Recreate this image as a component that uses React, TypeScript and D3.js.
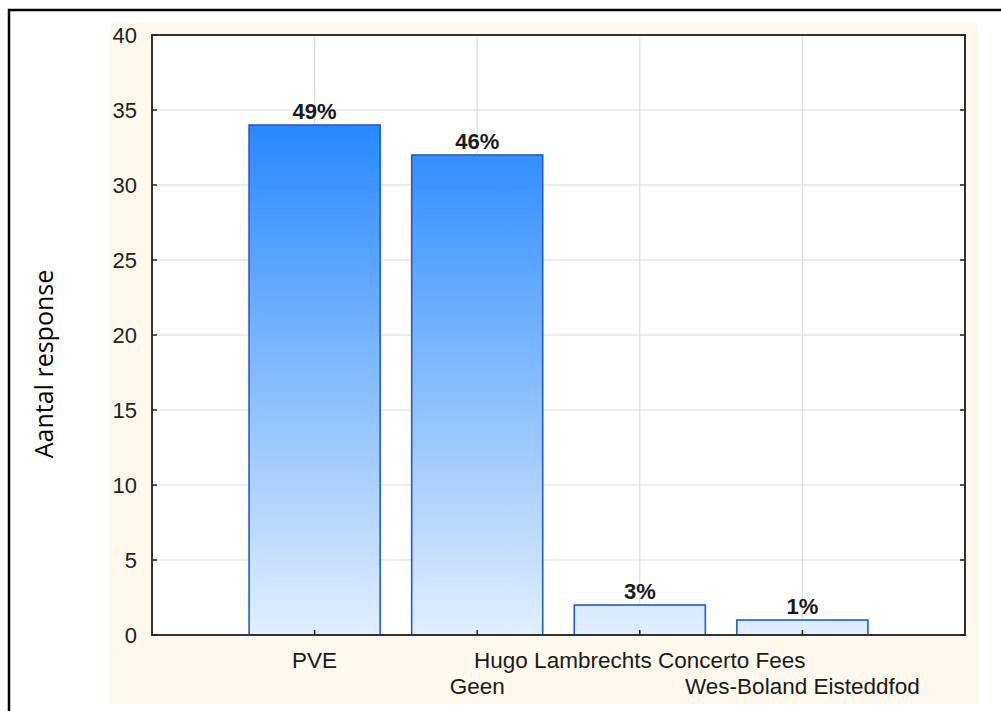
import { scaleLinear, scalePoint } from "d3";
import type { ReactElement } from "react";

const categories = ["PVE", "Geen", "Hugo Lambrechts Concerto Fees", "Wes-Boland Eisteddfod"];
const counts = [34, 32, 2, 1];
const percentLabels = ["49%", "46%", "3%", "1%"];
const yTicks = [0, 5, 10, 15, 20, 25, 30, 35, 40];
const yTitle = "Aantal response";

const W = 1001;
const H = 711;
const PLOT = { left: 152, top: 35, right: 965, bottom: 635 };
// labels alternate between two rows, like the original export
const LABEL_ROWS = [668, 694];
const FONT = "'Liberation Sans', Arial, sans-serif";

export default function App(): ReactElement {
  const x = scalePoint<string>()
    .domain(categories)
    .range([PLOT.left, PLOT.right])
    .padding(1);
  const y = scaleLinear().domain([0, 40]).range([PLOT.bottom, PLOT.top]);
  const barW = x.step() * 0.806;
  const maxVal = Math.max(...counts);

  return (
    <div style={{ position: "fixed", left: 0, top: 0 }}>
      <svg width={W} height={H} viewBox={`0 0 ${W} ${H}`} style={{ display: "block" }}>
        <defs>
          <linearGradient
            id="barFill"
            gradientUnits="userSpaceOnUse"
            x1={0}
            x2={0}
            y1={y(maxVal)}
            y2={y(0)}
          >
            <stop offset="0" stopColor="#2789ff" />
            <stop offset="1" stopColor="#e3efff" />
          </linearGradient>
        </defs>

        <rect x={0} y={0} width={W} height={H} fill="#ffffff" />
        {/* outer frame runs off the right and bottom edges */}
        <rect x={9} y={10} width={W + 20} height={H + 20} fill="none" stroke="#000" strokeWidth={2.5} />
        <rect x={110} y={23} width={868} height={681} fill="#fff8ed" />
        <rect
          x={PLOT.left}
          y={PLOT.top}
          width={PLOT.right - PLOT.left}
          height={PLOT.bottom - PLOT.top}
          fill="#ffffff"
        />

        {/* grid */}
        {yTicks.map((t) => (
          <line
            key={`gy${t}`}
            x1={PLOT.left}
            x2={PLOT.right}
            y1={y(t)}
            y2={y(t)}
            stroke="#dcdcdc"
            strokeWidth={1.2}
          />
        ))}
        {categories.map((c) => (
          <line
            key={`gx${c}`}
            x1={x(c)}
            x2={x(c)}
            y1={PLOT.top}
            y2={PLOT.bottom}
            stroke="#dcdcdc"
            strokeWidth={1.2}
          />
        ))}

        {/* bars */}
        {categories.map((c, i) => (
          <rect
            key={`b${c}`}
            x={(x(c) ?? 0) - barW / 2}
            y={y(counts[i])}
            width={barW}
            height={y(0) - y(counts[i])}
            fill="url(#barFill)"
            stroke="#1f5bd6"
            strokeWidth={1.6}
          />
        ))}

        {categories.map((c, i) => (
          <text
            key={`p${c}`}
            x={x(c)}
            y={y(counts[i]) - 6}
            textAnchor="middle"
            fontFamily={FONT}
            fontSize={22}
            fontWeight="bold"
            fill="#1a1a1a"
          >
            {percentLabels[i]}
          </text>
        ))}

        {/* frame + ticks */}
        <rect
          x={PLOT.left}
          y={PLOT.top}
          width={PLOT.right - PLOT.left}
          height={PLOT.bottom - PLOT.top}
          fill="none"
          stroke="#333"
          strokeWidth={2}
        />
        {yTicks.map((t) => (
          <g key={`t${t}`}>
            <line x1={PLOT.left} x2={PLOT.left + 5} y1={y(t)} y2={y(t)} stroke="#222" strokeWidth={1.5} />
            <line x1={PLOT.right - 5} x2={PLOT.right} y1={y(t)} y2={y(t)} stroke="#222" strokeWidth={1.5} />
            <text
              x={137}
              y={y(t) + 8}
              textAnchor="end"
              fontFamily={FONT}
              fontSize={22}
              fill="#222"
            >
              {t}
            </text>
          </g>
        ))}
        {categories.map((c, i) => (
          <g key={`xt${c}`}>
            <line
              x1={x(c)}
              x2={x(c)}
              y1={PLOT.bottom}
              y2={PLOT.bottom - 5}
              stroke="#222"
              strokeWidth={1.5}
            />
            <text
              x={x(c)}
              y={LABEL_ROWS[i % 2]}
              textAnchor="middle"
              fontFamily={FONT}
              fontSize={22.5}
              fill="#1a1a1a"
            >
              {c}
            </text>
          </g>
        ))}

        <text
          transform={`translate(53, ${(PLOT.top + PLOT.bottom) / 2 + 29}) rotate(-90)`}
          textAnchor="middle"
          fontFamily="'Open Sans', 'Noto Sans', sans-serif"
          fontSize={25}
          fill="#000"
        >
          {yTitle}
        </text>
      </svg>
    </div>
  );
}
